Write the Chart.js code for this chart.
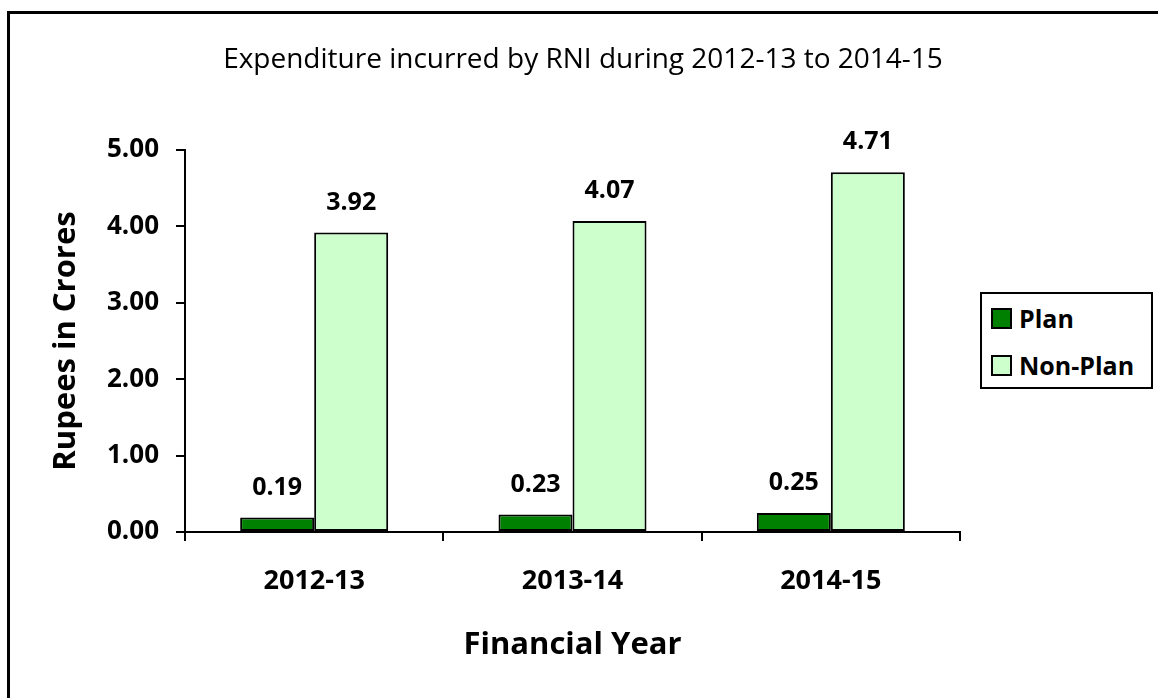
<!DOCTYPE html>
<html>
<head>
<meta charset="utf-8">
<title>Expenditure incurred by RNI</title>
<script src="https://cdn.jsdelivr.net/npm/chart.js@4.4.1/dist/chart.umd.min.js"></script>
<style>
    html, body { margin: 0; padding: 0; background: #fff; overflow: hidden; }
    #wrap { position: relative; width: 1158px; height: 698px; }
    #frame { position: absolute; left: 7px; top: 11px; width: 1200px; height: 760px; border: 3px solid #000; }
    #chart-title {
        position: absolute; left: 0; top: 40px; width: 1166px;
        text-align: center; font: 28px/34px "Open Sans", sans-serif; color: #000;
    }
    #rni-chart { position: absolute; left: 0; top: 0; }
    #legend {
        position: absolute; left: 980px; top: 292px; width: 173px; height: 97px;
        box-sizing: border-box; border: 2px solid #000; background: #fff;
    }
    .legend-item {
        position: absolute; left: 9px; height: 24px;
        display: flex; align-items: center;
        font: bold 25px/24px "Open Sans", sans-serif; color: #000;
    }
    .legend-swatch {
        width: 21px; height: 21px; box-sizing: border-box;
        border: 2px solid #000; margin-right: 7px;
    }
</style>
</head>
<body>
<div id="wrap">
    <div id="frame"></div>
    <canvas id="rni-chart" width="1158" height="698"></canvas>
    <div id="chart-title">Expenditure incurred by RNI during 2012-13 to 2014-15</div>
    <div id="legend"></div>
</div>
<script>
// --- Data ---
const categories = ["2012-13", "2013-14", "2014-15"];
const planValues = [0.19, 0.23, 0.25];
const nonPlanValues = [3.92, 4.07, 4.71];
const yTicks = [0, 1, 2, 3, 4, 5];

const FONT = "Open Sans";

// --- Value labels above bars ---
const valueLabels = {
    id: "valueLabels",
    afterDatasetsDraw(chart) {
        const c = chart.ctx;
        c.save();
        c.font = `bold 25px "${FONT}"`;
        c.fillStyle = "#000";
        c.textAlign = "center";
        c.textBaseline = "middle";
        chart.data.datasets.forEach((ds, i) => {
            chart.getDatasetMeta(i).data.forEach((bar, j) => {
                c.fillText(ds.data[j].toFixed(2), bar.x, bar.y - 30);
            });
        });
        c.restore();
    }
};

// --- Chart ---
const ctx = document.getElementById("rni-chart").getContext("2d");
const rniChart = new Chart(ctx, {
    type: "bar",
    data: {
        labels: categories,
        datasets: [
            { label: "Plan", data: planValues, backgroundColor: "#008000" },
            { label: "Non-Plan", data: nonPlanValues, backgroundColor: "#CCFFCC" }
        ]
    },
    options: {
        responsive: false,
        animation: false,
        devicePixelRatio: 1,
        layout: { padding: { top: 150, right: 198, left: 0, bottom: 0 } },
        datasets: {
            bar: {
                categoryPercentage: 0.573,
                barPercentage: 1,
                borderColor: "#000",
                borderWidth: 2,
                borderSkipped: false
            }
        },
        plugins: {
            legend: { display: false },
            tooltip: { enabled: false }
        },
        scales: {
            x: {
                grid: { drawOnChartArea: false, drawTicks: true, tickLength: 9, color: "#000", lineWidth: 2, offset: true },
                border: { color: "#000", width: 2 },
                ticks: { color: "#000", padding: 24, font: { family: FONT, size: 27, weight: "bold" } },
                title: {
                    display: true, text: "Financial Year", color: "#000",
                    font: { family: FONT, size: 31, weight: "bold" },
                    padding: { top: 0, bottom: 34 }
                },
                afterFit(scale) { scale.height = 166; }
            },
            y: {
                min: yTicks[0],
                max: yTicks[yTicks.length - 1],
                grid: { drawOnChartArea: false, drawTicks: true, tickLength: 9, color: "#000", lineWidth: 2 },
                border: { color: "#000", width: 2 },
                ticks: {
                    stepSize: yTicks[1] - yTicks[0],
                    color: "#000", padding: 17,
                    font: { family: FONT, size: 26, weight: "bold" },
                    callback: v => Number(v).toFixed(2)
                },
                title: {
                    display: true, text: "Rupees in Crores", color: "#000",
                    font: { family: FONT, size: 31, weight: "bold" },
                    padding: { top: 48, bottom: 0 }
                },
                afterFit(scale) { scale.width = 185; }
            }
        }
    },
    plugins: [valueLabels]
});

// --- Legend ---
const legendEl = document.getElementById("legend");
rniChart.data.datasets.forEach((ds, i) => {
    const item = document.createElement("div");
    item.className = "legend-item";
    item.style.top = (12 + i * 47) + "px";
    item.innerHTML = `<span class="legend-swatch" style="background:${ds.backgroundColor}"></span>${ds.label}`;
    legendEl.appendChild(item);
});
</script>
</body>
</html>
